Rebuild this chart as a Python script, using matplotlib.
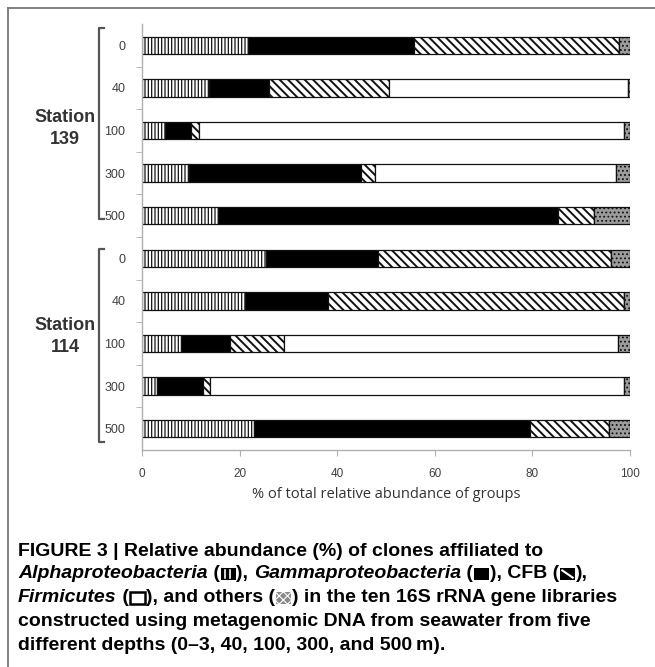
import matplotlib
matplotlib.use("Agg")
import matplotlib as mpl
import matplotlib.pyplot as plt
from matplotlib.patches import Rectangle
from matplotlib.lines import Line2D

# relative abundance (%) per library, top to bottom
stations = ["139", "114"]
depths = ["0", "40", "100", "300", "500"]
alpha = [21.7, 13.7, 4.7, 9.7, 15.6, 25.5, 21.2, 8.0, 3.0, 23.0]
gamma = [34.0, 12.3, 5.4, 35.2, 69.6, 22.9, 16.9, 10.0, 9.4, 56.5]
cfb = [42.1, 24.6, 1.5, 2.9, 7.5, 47.7, 60.6, 11.0, 1.6, 16.2]
firmicutes = [0.0, 48.9, 87.2, 49.4, 0.0, 0.0, 0.0, 68.6, 84.7, 0.0]
others = [2.2, 0.5, 1.2, 2.8, 7.3, 3.9, 1.3, 2.4, 1.3, 4.3]
xticks = [0, 20, 40, 60, 80, 100]

W, H = 655, 667
fig = plt.figure(figsize=(W / 100, H / 100), dpi=100)
fig.patch.set_facecolor("white")


def fx(px):
    return px / W


def fy(py):
    return 1 - py / H


ax = fig.add_axes([fx(142), fy(450), fx(630) - fx(142), fy(24) - fy(450)])

ypos = list(range(len(alpha)))
styles = [
    (alpha, dict(color="white", hatch="|||||"), 0.9),
    (gamma, dict(color="black"), 1.0),
    (cfb, dict(color="white", hatch="\\\\\\\\"), 1.4),
    (firmicutes, dict(color="white"), 1.0),
    (others, dict(color="#9c9c9c", hatch="...."), 0.8),
]
left = [0.0] * len(alpha)
for vals, kw, hlw in styles:
    with mpl.rc_context({"hatch.linewidth": hlw, "hatch.color": "black"}):
        ax.barh(ypos, vals, left=left, height=0.41, edgecolor="#111111",
                linewidth=0.9, **kw)
    left = [l + v for l, v in zip(left, vals)]

ax.set_xlim(0, 100)
ax.set_ylim(len(alpha) - 0.5, -0.5)
ax.set_xticks(xticks)
ax.set_xticklabels([str(t) for t in xticks], fontsize=8.5, color="#404040",
                   family=["Liberation Sans", "DejaVu Sans"])
ax.set_yticks(ypos)
ax.set_yticklabels(depths * len(stations), fontsize=9, color="#404040",
                   family=["Liberation Sans", "DejaVu Sans"])
ax.set_yticks([i + 0.5 for i in range(len(alpha) - 1)], minor=True)
ax.tick_params(axis="y", which="major", length=0, pad=12)
ax.tick_params(axis="y", which="minor", length=4, color="#b0b0b0")
ax.tick_params(axis="x", length=4, color="#b0b0b0", pad=9)
for s in ("top", "right"):
    ax.spines[s].set_visible(False)
for s in ("left", "bottom"):
    ax.spines[s].set_color("#b0b0b0")
    ax.spines[s].set_linewidth(1.0)

ax.set_xlabel("% of total relative abundance of groups", fontsize=10.5,
              color="#333333", family=["Open Sans", "DejaVu Sans"], labelpad=5)

# station brackets and labels
brackets = [(28, 219, 117, 139), (249, 442, 325, 348)]
for name, (top, bot, ty1, ty2) in zip(stations, brackets):
    xs = [fx(104), fx(99), fx(99), fx(104)]
    ys = [fy(top), fy(top), fy(bot), fy(bot)]
    fig.add_artist(Line2D(xs, ys, color="#555555", lw=1.6))
    for ty, s in ((ty1, "Station"), (ty2, name)):
        fig.text(fx(65), fy(ty), s, ha="center", va="center", fontsize=13,
                 weight="bold", color="#333333",
                 family=["Liberation Sans", "DejaVu Sans"])

# frame around the panel (top and left edges)
fig.add_artist(Line2D([fx(8), 1], [fy(8), fy(8)], color="#777777", lw=1.3))
fig.add_artist(Line2D([fx(8), fx(8)], [fy(8), 0], color="#777777", lw=1.3))

# caption with inline legend swatches
renderer = fig.canvas.get_renderer()
cap_font = dict(fontsize=14, weight="bold", color="black",
                family=["Liberation Sans", "DejaVu Sans"])


def icon(x, y, kind):
    w, h = 15, 12
    x0, y0 = fx(x + 1), fy(y + h / 2)
    ww, hh = w / W, h / H
    if kind in ("alpha", "gamma", "cfb"):
        fig.add_artist(Rectangle((x0, y0), ww, hh, facecolor="black", lw=0))
    if kind == "alpha":
        for k in (0.33, 0.66):
            fig.add_artist(Line2D([x0 + ww * k] * 2, [y0 + hh * 0.15, y0 + hh * 0.85],
                                  color="white", lw=1.2))
    elif kind == "cfb":
        fig.add_artist(Line2D([x0 + ww * 0.15, x0 + ww * 0.85],
                              [y0 + hh * 0.8, y0 + hh * 0.2], color="white", lw=1.5))
    elif kind == "firm":
        fig.add_artist(Rectangle((x0, y0), ww, hh, facecolor="white",
                                 edgecolor="black", lw=1.8))
    elif kind == "others":
        with mpl.rc_context({"hatch.linewidth": 0.8, "hatch.color": "white"}):
            fig.add_artist(Rectangle((x0, y0), ww, hh, facecolor="#8a8a8a",
                                     hatch="xxxx", lw=0))
    return w + 2


def caption_line(y, parts):
    x = 18
    for txt, style in parts:
        if style == "icon":
            x += icon(x, y, txt)
            continue
        t = fig.text(fx(x), fy(y), txt, ha="left", va="center",
                     style=style, **cap_font)
        x = t.get_window_extent(renderer).x1


caption_line(551, [("FIGURE 3 | Relative abundance (%) of clones affiliated to", "normal")])
caption_line(574, [("Alphaproteobacteria", "italic"), (" (", "normal"), ("alpha", "icon"),
                   ("), ", "normal"), ("Gammaproteobacteria", "italic"), (" (", "normal"),
                   ("gamma", "icon"), ("), CFB (", "normal"), ("cfb", "icon"), ("),", "normal")])
caption_line(598, [("Firmicutes", "italic"), (" (", "normal"), ("firm", "icon"),
                   ("), and others (", "normal"), ("others", "icon"),
                   (") in the ten 16S rRNA gene libraries", "normal")])
caption_line(621, [("constructed using metagenomic DNA from seawater from five", "normal")])
caption_line(645, [("different depths (0\u20133, 40, 100, 300, and 500\u2009m).", "normal")])

fig.savefig("out.png", dpi=100)
